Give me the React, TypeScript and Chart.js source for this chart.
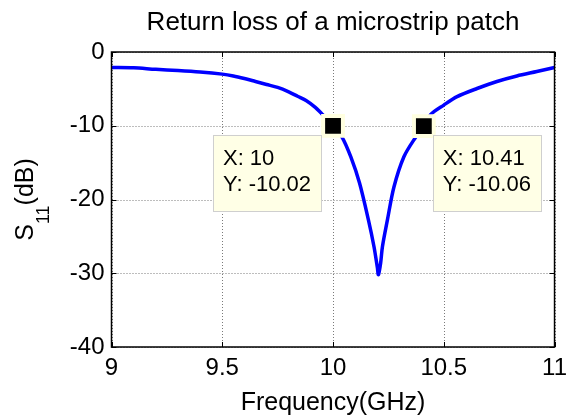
import React, { useEffect, useRef } from "react";
import { Chart, registerables } from "chart.js";

Chart.register(...registerables);

// ---- data ----
const freqGHz = [
  9.0, 9.1, 9.2, 9.3, 9.4, 9.5, 9.55, 9.6, 9.65, 9.7, 9.75, 9.8, 9.84, 9.88,
  9.92, 9.95, 9.98, 10.0, 10.04, 10.08, 10.12, 10.16, 10.185, 10.2, 10.205,
  10.215, 10.223, 10.246, 10.275, 10.32, 10.372, 10.41, 10.44, 10.5, 10.56,
  10.65, 10.74, 10.83, 10.92, 11.0,
];
const s11dB = [
  -2.1, -2.15, -2.35, -2.5, -2.7, -3.0, -3.25, -3.6, -4.0, -4.4, -4.8, -5.4,
  -6.0, -6.6, -7.5, -8.4, -9.3, -10.02, -11.5, -14.2, -17.8, -22.8, -26.4,
  -29.2, -30.2, -28.6, -26.4, -22.7, -18.3, -14.2, -11.6, -10.06, -8.5, -7.2,
  -6.05, -4.95, -4.0, -3.25, -2.65, -2.1,
];
const xTicks = [9, 9.5, 10, 10.5, 11];
const yTicks = [0, -10, -20, -30, -40];
const tipFreq = [10, 10.41];
const tipS11 = [-10.02, -10.06];
const titleText = "Return loss of a microstrip patch";
const xLabel = "Frequency(GHz)";
const yLabelMain = "S";
const yLabelSub = "11";
const yLabelUnit = "(dB)";

const FONT = "'Liberation Sans', Arial, sans-serif";

const overlay = {
  id: "matlabOverlay",
  beforeDatasetsDraw(chart: any) {
    const { ctx, chartArea: a, scales } = chart;
    const xs = scales.x;
    const ys = scales.y;
    ctx.save();
    ctx.strokeStyle = "#7a7a7a";
    ctx.lineWidth = 1;
    ctx.setLineDash([1, 2]);
    xTicks.forEach((v) => {
      const px = Math.round(xs.getPixelForValue(v)) + 0.5;
      ctx.beginPath();
      ctx.moveTo(px, a.top);
      ctx.lineTo(px, a.bottom);
      ctx.stroke();
    });
    yTicks.forEach((v) => {
      const py = Math.round(ys.getPixelForValue(v)) + 0.5;
      ctx.beginPath();
      ctx.moveTo(a.left, py);
      ctx.lineTo(a.right, py);
      ctx.stroke();
    });
    ctx.restore();
  },
  afterDraw(chart: any) {
    const { ctx, chartArea: a, scales } = chart;
    const xs = scales.x;
    const ys = scales.y;
    ctx.save();
    // box
    ctx.setLineDash([]);
    ctx.strokeStyle = "#000";
    ctx.lineWidth = 1.5;
    ctx.strokeRect(a.left, a.top, a.right - a.left, a.bottom - a.top);
    // inner ticks
    const tl = 5;
    ctx.lineWidth = 1;
    xTicks.forEach((v) => {
      const px = Math.round(xs.getPixelForValue(v)) + 0.5;
      ctx.beginPath();
      ctx.moveTo(px, a.bottom);
      ctx.lineTo(px, a.bottom - tl);
      ctx.moveTo(px, a.top);
      ctx.lineTo(px, a.top + tl);
      ctx.stroke();
    });
    yTicks.forEach((v) => {
      const py = Math.round(ys.getPixelForValue(v)) + 0.5;
      ctx.beginPath();
      ctx.moveTo(a.left, py);
      ctx.lineTo(a.left + tl, py);
      ctx.moveTo(a.right, py);
      ctx.lineTo(a.right - tl, py);
      ctx.stroke();
    });

    // title
    ctx.fillStyle = "#000";
    ctx.textAlign = "center";
    ctx.textBaseline = "alphabetic";
    ctx.font = `26px ${FONT}`;
    ctx.fillText(titleText, (a.left + a.right) / 2, 30);

    // x label
    ctx.font = `25px ${FONT}`;
    ctx.fillText(xLabel, (a.left + a.right) / 2, 410);

    // y label rotated with subscript
    ctx.save();
    ctx.translate(33, (a.top + a.bottom) / 2);
    ctx.rotate(-Math.PI / 2);
    ctx.textAlign = "left";
    const mainFont = `25px ${FONT}`;
    const subFont = `18px ${FONT}`;
    ctx.font = mainFont;
    const wS = ctx.measureText(yLabelMain).width;
    const wU = ctx.measureText(yLabelUnit).width;
    ctx.font = subFont;
    const wSub = ctx.measureText(yLabelSub).width;
    let x0 = -(wS + wSub + wU) / 2;
    ctx.font = mainFont;
    ctx.fillText(yLabelMain, x0, 0);
    x0 += wS;
    ctx.font = subFont;
    ctx.fillText(yLabelSub, x0, 16);
    x0 += wSub;
    ctx.font = mainFont;
    ctx.fillText(yLabelUnit, x0, 0);
    ctx.restore();

    // data tips
    ctx.font = `22px ${FONT}`;
    ctx.textAlign = "left";
    ctx.textBaseline = "middle";
    tipFreq.forEach((f, i) => {
      const px = xs.getPixelForValue(f);
      const py = ys.getPixelForValue(tipS11[i]);
      const l1 = `X: ${f}`;
      const l2 = `Y: ${tipS11[i].toFixed(2)}`;
      const w = Math.max(ctx.measureText(l1).width, ctx.measureText(l2).width) + 20;
      const h = 76;
      const bx = i === 0 ? px - 12 - w : px + 9;
      const by = py + 9;
      ctx.fillStyle = "#FFFFE6";
      ctx.fillRect(bx, by, w, h);
      ctx.strokeStyle = "#cfcfcf";
      ctx.lineWidth = 1;
      ctx.strokeRect(Math.round(bx) + 0.5, Math.round(by) + 0.5, Math.round(w), h);
      ctx.fillStyle = "#000";
      ctx.fillText(l1, bx + 10, by + 24);
      ctx.fillText(l2, bx + 10, by + 50);
    });
    ctx.restore();
  },
};

export default function App() {
  const ref = useRef<HTMLCanvasElement | null>(null);
  useEffect(() => {
    if (!ref.current) return;
    const chart = new Chart(ref.current, {
      type: "line",
      data: {
        datasets: [
          {
            type: "scatter",
            data: tipFreq.map((f, i) => ({ x: f, y: tipS11[i] })),
            pointStyle: "rect",
            pointRadius: 14,
            pointHoverRadius: 14,
            backgroundColor: "#000",
            borderColor: "#FFFFE0",
            borderWidth: 4,
            showLine: false,
          } as any,
          {
            data: freqGHz.map((f, i) => ({ x: f, y: s11dB[i] })),
            borderColor: "#0000FF",
            borderWidth: 3.5,
            pointRadius: 0,
            tension: 0.3,
            fill: false,
          },
        ],
      },
      options: {
        animation: false,
        responsive: false,
        events: [],
        layout: { padding: { top: 52, right: 14, left: 0, bottom: 0 } },
        plugins: { legend: { display: false }, tooltip: { enabled: false }, title: { display: false } },
        scales: {
          x: {
            type: "linear",
            min: 9,
            max: 11,
            afterBuildTicks: (s: any) => {
              s.ticks = xTicks.map((v) => ({ value: v }));
            },
            afterFit: (s: any) => {
              s.height = 70;
            },
            grid: { display: false, drawTicks: false },
            border: { display: false },
            ticks: {
              color: "#000",
              font: { family: FONT, size: 24 },
              padding: 7,
              maxRotation: 0,
              autoSkip: false,
              callback: (v: any) => String(v),
            },
          },
          y: {
            type: "linear",
            min: -40,
            max: 0,
            afterBuildTicks: (s: any) => {
              s.ticks = yTicks.map((v) => ({ value: v }));
            },
            afterFit: (s: any) => {
              s.width = 111.5;
            },
            grid: { display: false, drawTicks: false },
            border: { display: false },
            ticks: {
              color: "#000",
              font: { family: FONT, size: 24 },
              padding: 7,
              autoSkip: false,
              callback: (v: any) => String(v),
            },
          },
        },
      },
      plugins: [overlay],
    });
    return () => chart.destroy();
  }, []);
  return (
    <div style={{ position: "fixed", left: 0, top: 0, width: 574, height: 417, background: "#fff" }}>
      <canvas ref={ref} width={574} height={417} style={{ display: "block", width: 574, height: 417 }} />
    </div>
  );
}
